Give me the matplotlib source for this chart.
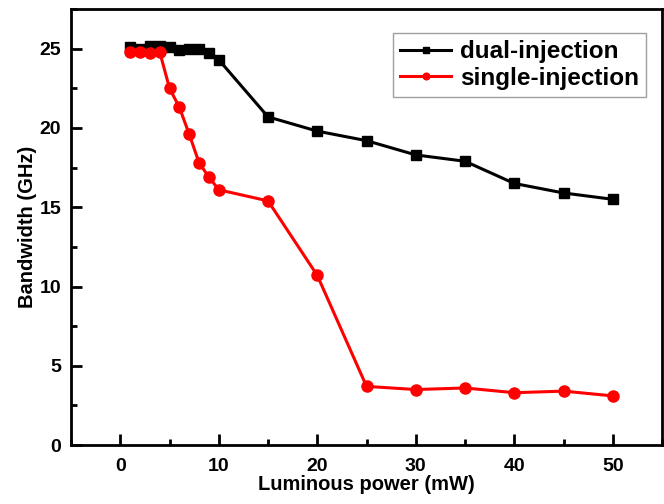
import matplotlib
matplotlib.use("Agg")
import matplotlib.pyplot as plt
from matplotlib.ticker import MultipleLocator

plt.rcParams['font.family'] = ['Liberation Sans', 'DejaVu Sans']
plt.rcParams['font.weight'] = 'bold'

power = [1, 2, 3, 4, 5, 6, 7, 8, 9, 10, 15, 20, 25, 30, 35, 40, 45, 50]
dual = [25.1, 25.0, 25.2, 25.2, 25.1, 24.9, 25.0, 25.0, 24.7, 24.3,
        20.7, 19.8, 19.2, 18.3, 17.9, 16.5, 15.9, 15.5]
single = [24.8, 24.8, 24.7, 24.8, 22.5, 21.3, 19.6, 17.8, 16.9, 16.1,
          15.4, 10.7, 3.7, 3.5, 3.6, 3.3, 3.4, 3.1]

fig = plt.figure(figsize=(6.64, 5.04), dpi=100)
ax = fig.add_axes([0.107, 0.117, 0.890, 0.865])

ax.plot(power, dual, color='black', marker='s', markersize=7.5, linewidth=2.2,
        label='dual-injection')
ax.plot(power, single, color='#ff0000', marker='o', markersize=8, linewidth=2.2,
        label='single-injection')

ax.set_xlim(-5, 55)
ax.set_ylim(0, 27.5)
ax.xaxis.set_major_locator(MultipleLocator(10))
ax.xaxis.set_minor_locator(MultipleLocator(5))
ax.yaxis.set_major_locator(MultipleLocator(5))
ax.yaxis.set_minor_locator(MultipleLocator(2.5))
ax.tick_params(which='major', direction='in', length=8, width=2, labelsize=14)
ax.tick_params(which='minor', direction='in', length=4, width=2)
ax.tick_params(axis='x', which='major', pad=9)
ax.tick_params(axis='y', which='major', pad=7)
for lab in ax.get_xticklabels() + ax.get_yticklabels():
    lab.set_fontweight('bold')
for sp in ax.spines.values():
    sp.set_linewidth(2)

ax.set_xlabel('Luminous power (mW)', fontsize=14.5, fontweight='bold', labelpad=0)
ax.set_ylabel('Bandwidth (GHz)', fontsize=14.5, fontweight='bold', labelpad=2)

leg = ax.legend(loc='upper right', bbox_to_anchor=(0.973, 0.945),
                prop={'weight': 'bold', 'size': 17.5}, fancybox=False,
                edgecolor='#888888', markerscale=0.6, handlelength=2.1,
                borderpad=0.3, labelspacing=0.15, handletextpad=0.35,
                borderaxespad=0)
leg.get_frame().set_linewidth(1)

fig.savefig('out.png', dpi=100)
